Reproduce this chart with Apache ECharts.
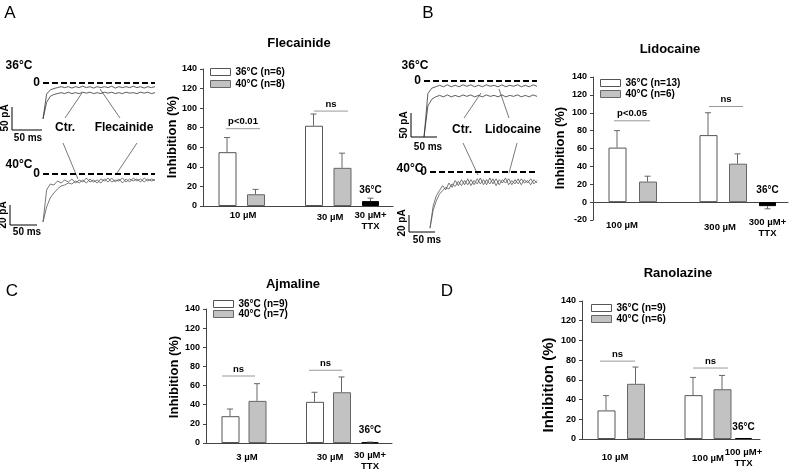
<!DOCTYPE html>
<html><head><meta charset="utf-8">
<script src="https://cdn.jsdelivr.net/npm/echarts@6/dist/echarts.min.js"></script>
<style>html,body{margin:0;padding:0;background:#fff}#c{width:792px;height:470px}</style>
</head><body><div id="c"></div>
<script>
// ================= DATA =================
const yTickStep = 20;
// A - Flecainide
const flecDoses = ['10 µM', '30 µM'];
const flecTtxLabel = '30 µM+\nTTX';
const flecLegend = ['36°C (n=6)', '40°C (n=8)'];
const flec36 = [55, 82], flec36Err = [15, 12];
const flec40 = [12, 39], flec40Err = [5, 15];
const flecTtx = 5, flecTtxErr = 3;
const flecSig = ['p<0.01', 'ns'], flecSigY = [79, 97];
// B - Lidocaine
const lidoDoses = ['100 µM', '300 µM'];
const lidoTtxLabel = '300 µM+\nTTX';
const lidoLegend = ['36°C (n=13)', '40°C (n=6)'];
const lido36 = [61, 75], lido36Err = [19, 25];
const lido40 = [23, 43], lido40Err = [6, 11];
const lidoTtx = -4.5, lidoTtxErr = -3;
const lidoSig = ['p<0.05', 'ns'], lidoSigY = [91, 107];
// C - Ajmaline
const ajmaDoses = ['3 µM', '30 µM'];
const ajmaTtxLabel = '30 µM+\nTTX';
const ajmaLegend = ['36°C (n=9)', '40°C (n=7)'];
const ajma36 = [28, 43], ajma36Err = [7.5, 10];
const ajma40 = [44, 53], ajma40Err = [18, 16];
const ajmaTtx = 0.6, ajmaTtxErr = 0.4;
const ajmaSig = ['ns', 'ns'], ajmaSigY = [70, 76];
// D - Ranolazine
const ranoDoses = ['10 µM', '100 µM'];
const ranoTtxLabel = '100 µM+\nTTX';
const ranoLegend = ['36°C (n=9)', '40°C (n=6)'];
const rano36 = [29, 44.5], rano36Err = [15, 18];
const rano40 = [56, 50.5], rano40Err = [17, 14];
const ranoTtx = 1, ranoTtxErr = 0;
const ranoSig = ['ns', 'ns'], ranoSigY = [79, 72];
const ttxTemp = '36°C';

// Current traces (pA), sampled every dt ms
const a36Ctr = [-78,-42,-29,-25,-23,-21,-23,-20,-23,-21,-23,-20,-22,-20,-23,-21,-23,-20,-22,-20,-23,-21,-23,-20,-22,-21,-23,-20,-22,-20,-23,-21];
const a36Drug = [-78,-24,-15,-12,-10,-8,-10,-8,-11,-8,-10,-7,-10,-8,-11,-8,-10,-8,-10,-7,-11,-8,-10,-8,-10,-7,-10,-8,-11,-8,-10,-8];
const a40Ctr = [-48,-33,-24,-19,-15,-12,-11,-9,-10,-7,-9,-6,-9,-5,-8,-6,-9,-5,-8,-4,-8,-5,-9,-5,-8,-4,-7,-5,-8,-5,-7,-6];
const a40Drug = [-48,-16,-10,-11,-7,-9,-6,-8,-5,-9,-6,-8,-4,-8,-6,-9,-5,-7,-4,-8,-6,-7,-4,-8,-5,-7,-5,-8,-4,-7,-5,-6];
const b36Ctr = [-117,-52,-38,-33,-30,-33,-29,-33,-30,-33,-29,-32,-29,-33,-30,-33,-29,-32,-30,-33,-29,-33,-30,-32,-29,-33,-30,-33,-29,-32];
const b36Drug = [-117,-26,-15,-12,-9,-12,-8,-12,-9,-12,-8,-11,-8,-12,-9,-12,-8,-11,-9,-12,-8,-12,-9,-11,-8,-12,-9,-12,-8,-11];
const b40Ctr = [-66,-45,-34,-26,-22,-18,-20,-14,-17,-11,-16,-10,-15,-9,-15,-8,-14,-9,-15,-7,-14,-8,-15,-9,-13,-8,-15,-9,-14,-8,-13,-10,-15,-9,-13];
const b40Drug = [-66,-40,-28,-22,-16,-21,-13,-18,-10,-16,-9,-15,-8,-16,-10,-14,-7,-15,-9,-14,-8,-16,-9,-13,-7,-15,-10,-14,-8,-15,-9,-13,-8,-14,-10];

// ================= LAYOUT =================
const FONT = "'Liberation Sans', Arial, sans-serif";
const panels = [
  { d: {doses: flecDoses, ttx: flecTtxLabel, leg: flecLegend, v36: flec36, e36: flec36Err, v40: flec40, e40: flec40Err, t: flecTtx, te: flecTtxErr, sig: flecSig, sigY: flecSigY},
    grid: {left: 203, top: 69, width: 190, height: 137}, yMin: 0,
    pos36: [24, 110.5], pos40: [52.5, 139], posT: 167.5, labX: [40, 127], labDy: [9, 11], ttxDy: 14.5, tempDy: -16,
    sigX: [[23, 57], [111, 145]], legend: {left: 210, top: 66, lh: 12} },
  { d: {doses: lidoDoses, ttx: lidoTtxLabel, leg: lidoLegend, v36: lido36, e36: lido36Err, v40: lido40, e40: lido40Err, t: lidoTtx, te: lidoTtxErr, sig: lidoSig, sigY: lidoSigY},
    grid: {left: 593, top: 77, width: 195, height: 143}, yMin: -20,
    pos36: [24, 115], pos40: [54.5, 144.5], posT: 174.5, labX: [29, 127], labDy: [23, 25], ttxDy: 25.5, tempDy: -12,
    sigX: [[21, 57], [116, 150]], legend: {left: 600, top: 77.5, lh: 11} },
  { d: {doses: ajmaDoses, ttx: ajmaTtxLabel, leg: ajmaLegend, v36: ajma36, e36: ajma36Err, v40: ajma40, e40: ajma40Err, t: ajmaTtx, te: ajmaTtxErr, sig: ajmaSig, sigY: ajmaSigY},
    grid: {left: 206, top: 309, width: 186, height: 134}, yMin: 0,
    pos36: [24, 108.5], pos40: [51, 135.5], posT: 164, labX: [41, 124], labDy: [14, 14], ttxDy: 18, tempDy: -13,
    sigX: [[16, 49], [103, 136]], legend: {left: 213, top: 299, lh: 10} },
  { d: {doses: ranoDoses, ttx: ranoTtxLabel, leg: ranoLegend, v36: rano36, e36: rano36Err, v40: rano40, e40: rano40Err, t: ranoTtx, te: ranoTtxErr, sig: ranoSig, sigY: ranoSigY},
    grid: {left: 582, top: 301, width: 178, height: 138}, yMin: 0,
    pos36: [24, 111], pos40: [53.5, 140], posT: 161.5, labX: [33, 126], labDy: [18, 19], ttxDy: 19, tempDy: -12,
    sigX: [[18, 53], [111, 146]], legend: {left: 591, top: 302.5, lh: 11} }
];
const WHITE = {color: '#ffffff', borderColor: '#555', borderWidth: 1};
const GRAY = {color: '#c2c2c2', borderColor: '#666', borderWidth: 1};
const BLACK = {color: '#000', borderColor: '#000', borderWidth: 1};

const option = {animation: false, backgroundColor: '#fff', grid: [], xAxis: [], yAxis: [], series: [], legend: [], graphic: []};

panels.forEach((P, gi) => {
  const D = P.d;
  option.grid.push(Object.assign({containLabel: false}, P.grid));
  option.xAxis.push({gridIndex: gi, type: 'value', min: 0, max: P.grid.width,
    axisLine: {show: true, onZero: true, lineStyle: {color: '#444', width: 1}},
    axisTick: {show: false}, axisLabel: {show: false}, splitLine: {show: false}});
  option.yAxis.push({gridIndex: gi, type: 'value', min: P.yMin, max: 140, interval: yTickStep,
    axisLine: {show: true, lineStyle: {color: '#444', width: 1}},
    axisTick: {show: true, length: 3, lineStyle: {color: '#444'}},
    axisLabel: {fontSize: 9, fontWeight: 'bold', color: '#000', fontFamily: FONT, margin: 6},
    splitLine: {show: false}});
  const common = {type: 'bar', xAxisIndex: gi, yAxisIndex: gi, barWidth: 18, barGap: '-100%', silent: true};
  option.series.push(Object.assign({}, common, {name: D.leg[0], itemStyle: WHITE,
    data: D.v36.map((v, i) => [P.pos36[i], v])}));
  option.series.push(Object.assign({}, common, {name: D.leg[1], itemStyle: GRAY,
    data: D.v40.map((v, i) => [P.pos40[i], v])}));
  option.series.push(Object.assign({}, common, {name: 'ttx' + gi, barWidth: 17, itemStyle: BLACK,
    data: [[P.posT, D.t]]}));
  // error bars
  const errItems = [];
  D.v36.forEach((v, i) => errItems.push([P.pos36[i], v, v + D.e36[i]]));
  D.v40.forEach((v, i) => errItems.push([P.pos40[i], v, v + D.e40[i]]));
  if (D.te !== 0) errItems.push([P.posT, D.t, D.t + D.te]);
  option.series.push({type: 'custom', xAxisIndex: gi, yAxisIndex: gi, coordinateSystem: 'cartesian2d', silent: true, z: 3,
    data: errItems, encode: {x: 0, y: [1, 2]},
    renderItem: (p, api) => {
      const x = api.value(0), b = api.value(1), t = api.value(2);
      const p0 = api.coord([x, b]), p1 = api.coord([x, t]);
      return {type: 'group', children: [
        {type: 'line', shape: {x1: p0[0], y1: p0[1], x2: p1[0], y2: p1[1]}, style: {stroke: '#666', lineWidth: 1}},
        {type: 'line', shape: {x1: p1[0] - 3, y1: p1[1], x2: p1[0] + 3, y2: p1[1]}, style: {stroke: '#666', lineWidth: 1}}]};
    }});
  // significance lines
  option.series.push({type: 'custom', xAxisIndex: gi, yAxisIndex: gi, coordinateSystem: 'cartesian2d', silent: true, z: 3,
    data: D.sigY.map((y, i) => [P.sigX[i][0], P.sigX[i][1], y]), encode: {x: [0, 1], y: 2},
    renderItem: (p, api) => {
      const a = api.coord([api.value(0), api.value(2)]), b = api.coord([api.value(1), api.value(2)]);
      return {type: 'group', children: [
        {type: 'line', shape: {x1: a[0], y1: a[1], x2: b[0], y2: b[1]}, style: {stroke: '#999', lineWidth: 1}},
        {type: 'text', x: (a[0] + b[0]) / 2, y: a[1] - 2, style: {text: D.sig[p.dataIndex], fill: '#000', fontSize: 9.5, fontWeight: 'bold', fontFamily: FONT, align: 'center', verticalAlign: 'bottom'}}]};
    }});
  // category labels + TTX label + temperature label
  const labTexts = D.doses.concat([D.ttx, ttxTemp]);
  const labDys = P.labDy.concat([P.ttxDy, P.tempDy]);
  const labItems = P.labX.map(x => [x, 0]).concat([[P.posT, 0], [P.posT, 0]]);
  option.series.push({type: 'custom', xAxisIndex: gi, yAxisIndex: gi, coordinateSystem: 'cartesian2d', silent: true, z: 4,
    data: labItems,
    renderItem: (p, api) => {
      const c = api.coord([api.value(0), api.value(1)]);
      const i = p.dataIndex;
      return {type: 'text', x: c[0], y: c[1] + labDys[i], style: {text: labTexts[i], fill: '#000',
        fontSize: i === 3 ? 10 : 9.5, fontWeight: 'bold', fontFamily: FONT, align: 'center', verticalAlign: 'middle', lineHeight: 11}};
    }});
  option.legend.push({orient: 'vertical', left: P.legend.left, top: P.legend.top, padding: 0, itemGap: 0,
    itemWidth: 20, itemHeight: 7, icon: 'rect', selectedMode: false,
    textStyle: {fontSize: 10, fontWeight: 'bold', color: '#000', fontFamily: FONT, lineHeight: P.legend.lh},
    data: [{name: D.leg[0], itemStyle: WHITE}, {name: D.leg[1], itemStyle: GRAY}]});
});

// ---- trace panels ----
const traces = [
  {grid: {left: 43, top: 83, width: 112, height: 36.8}, dt: 6, yMin: -80, ctr: a36Ctr, drug: a36Drug, color: '#333'},
  {grid: {left: 43, top: 174, width: 112, height: 50}, dt: 6, yMin: -50, ctr: a40Ctr, drug: a40Drug, color: '#555'},
  {grid: {left: 424, top: 81, width: 113, height: 57.6}, dt: 7.5, yMin: -120, ctr: b36Ctr, drug: b36Drug, color: '#333'},
  {grid: {left: 430, top: 172, width: 107, height: 59.5}, dt: 6, yMin: -70, ctr: b40Ctr, drug: b40Drug, color: '#555'}
];
traces.forEach((T, k) => {
  const gi = 4 + k;
  option.grid.push(T.grid);
  option.xAxis.push({gridIndex: gi, type: 'value', show: false, min: 0, max: (T.ctr.length - 1) * T.dt});
  option.yAxis.push({gridIndex: gi, type: 'value', show: false, min: T.yMin, max: 0});
  const ls = {type: 'line', xAxisIndex: gi, yAxisIndex: gi, symbol: 'none', silent: true};
  option.series.push(Object.assign({}, ls, {data: T.ctr.map((v, i) => [i * T.dt, v]), lineStyle: {color: T.color, width: 0.8},
    markLine: {silent: true, symbol: 'none', data: [{yAxis: 0}], lineStyle: {color: '#000', width: 2, type: [6, 3]},
      label: {show: true, position: 'start', formatter: '0', fontSize: 12, fontWeight: 'bold', color: '#000', fontFamily: FONT, distance: 3}}}));
  option.series.push(Object.assign({}, ls, {data: T.drug.map((v, i) => [i * T.dt, v]), lineStyle: {color: T.color, width: 0.8}}));
});

// ---- graphic annotations ----
function gl(x1, y1, x2, y2, c, w) { return {type: 'line', silent: true, shape: {x1, y1, x2, y2}, style: {stroke: c || '#000', lineWidth: w || 1}}; }
function gt(text, x, y, size, weight, opts) {
  return Object.assign({type: 'text', silent: true, x, y, style: {text, fill: '#000', fontSize: size, fontWeight: weight || 'bold', fontFamily: FONT, align: 'center', verticalAlign: 'middle'}}, opts || {});
}
const R = Math.PI / 2;
option.graphic = [
  gt('A', 10, 13, 17, 'normal'), gt('B', 428, 13, 17, 'normal'), gt('C', 12, 291, 17, 'normal'), gt('D', 447, 291, 17, 'normal'),
  gt('Flecainide', 299, 43, 13), gt('Lidocaine', 670, 49, 13), gt('Ajmaline', 293, 284, 13), gt('Ranolazine', 678, 273, 13),
  gt('Inhibition (%)', 172, 137, 13, 'bold', {rotation: R}), gt('Inhibition (%)', 560, 148, 13, 'bold', {rotation: R}),
  gt('Inhibition (%)', 174, 377, 13, 'bold', {rotation: R}), gt('Inhibition (%)', 549, 385, 15, 'bold', {rotation: R}),
  // temperatures
  gt('36°C', 19, 66, 12), gt('40°C', 19, 165, 12), gt('36°C', 415, 66, 12), gt('40°C', 410, 169, 12),
  // scale bars A
  gl(12, 107, 12, 130), gl(12, 130, 42, 130), gt('50 pA', 5, 118, 10, 'bold', {rotation: R}), gt('50 ms', 28, 138, 10),
  gl(10, 205, 10, 225), gl(10, 225, 37, 225), gt('20 pA', 3.5, 215, 10, 'bold', {rotation: R}), gt('50 ms', 27, 232, 10),
  // scale bars B
  gl(411, 113, 411, 137), gl(411, 137, 437, 137), gt('50 pA', 404, 125, 10, 'bold', {rotation: R}), gt('50 ms', 428, 147, 10),
  gl(409, 215, 409, 232), gl(409, 232, 435, 232), gt('20 pA', 402, 223, 10, 'bold', {rotation: R}), gt('50 ms', 427, 240, 10),
  // labels & pointers A
  gt('Ctr.', 65, 128, 12), gt('Flecainide', 124, 128, 12),
  gl(65, 118, 82, 93, '#555', 0.8), gl(120, 118, 100, 89, '#555', 0.8), gl(63, 143, 78, 179, '#555', 0.8), gl(137, 143, 117, 173, '#555', 0.8),
  // labels & pointers B
  gt('Ctr.', 462, 130, 12), gt('Lidocaine', 513, 130, 12),
  gl(464, 118, 481, 93, '#555', 0.8), gl(509, 118, 499, 89, '#555', 0.8), gl(463, 143, 478, 175, '#555', 0.8), gl(517, 143, 509, 173, '#555', 0.8)
];

const chart = echarts.init(document.getElementById('c'), null, {renderer: 'canvas'});
chart.setOption(option);
</script></body></html>
